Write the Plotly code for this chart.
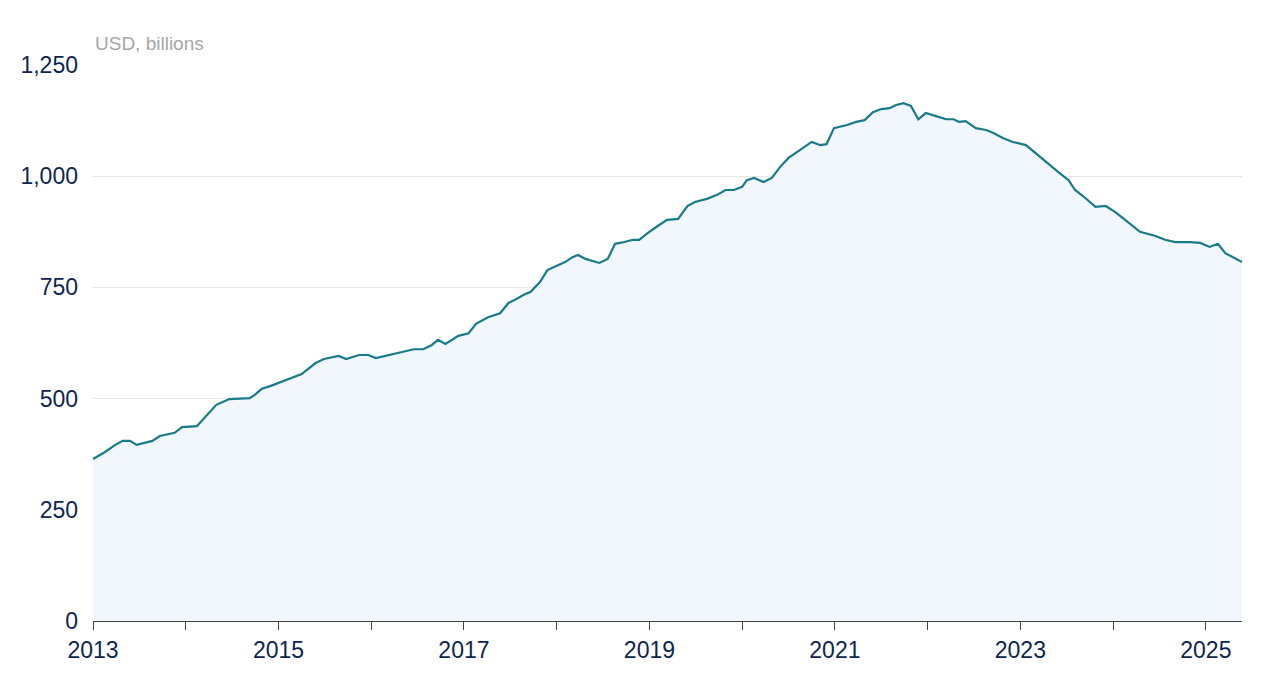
import plotly.graph_objects as go

years = [2013.00,2013.13,2013.24,2013.32,2013.40,2013.47,2013.64,2013.72,2013.88,2013.96,
 2014.12,2014.20,2014.33,2014.47,2014.69,2014.74,2014.82,2014.91,
 2015.11,2015.25,2015.40,2015.49,2015.65,2015.73,2015.87,2015.97,
 2016.05,2016.24,2016.46,2016.56,2016.65,2016.72,2016.80,2016.94,
 2017.05,2017.13,2017.26,2017.39,2017.48,2017.55,2017.64,2017.72,2017.82,2017.90,2017.99,
 2018.09,2018.17,2018.23,2018.31,2018.46,2018.55,2018.63,2018.73,2018.82,2018.89,2018.98,
 2019.09,2019.19,2019.31,2019.41,2019.49,2019.62,2019.73,2019.82,2019.91,
 2020.00,2020.05,2020.13,2020.23,2020.32,2020.41,2020.50,2020.59,2020.67,2020.75,2020.84,2020.91,2020.99,
 2021.13,2021.23,2021.32,2021.41,2021.50,2021.59,2021.66,2021.74,2021.82,2021.90,2021.98,
 2022.09,2022.20,2022.28,2022.34,2022.41,2022.52,2022.63,2022.71,2022.81,2022.92,
 2023.06,2023.11,2023.22,2023.30,2023.41,2023.52,2023.59,2023.70,2023.81,2023.92,
 2024.02,2024.13,2024.29,2024.45,2024.56,2024.67,2024.83,2024.94,
 2025.04,2025.13,2025.21,2025.39]
values = [364,380,396,405,405,396,405,416,423,436,
 438,456,486,499,501,508,522,528,
 544,555,580,589,596,589,598,598,
 591,600,611,611,620,632,623,641,
 647,668,683,692,715,722,733,740,762,789,798,
 807,818,823,814,805,814,848,852,857,857,872,
 888,902,904,933,942,949,958,969,969,
 976,991,996,987,996,1021,1041,1054,1066,1077,1070,1072,1108,
 1115,1122,1126,1144,1151,1153,1160,1164,1158,1128,1142,
 1135,1128,1128,1122,1124,1108,1104,1097,1086,1077,
 1070,1061,1043,1027,1009,991,969,951,931,933,
 920,902,875,866,857,852,852,850,
 841,848,827,807]
tick_years = [2013, 2015, 2017, 2019, 2021, 2023, 2025]
y_ticks = [0, 250, 500, 750, 1000, 1250]

fig = go.Figure(go.Scatter(x=years, y=values, mode="lines", fill="tozeroy",
    line=dict(color="#177b8a", width=2.2), fillcolor="#f1f7fc", hoverinfo="skip"))
font = dict(family="Liberation Sans Narrow, Liberation Sans, Arial", size=23, color="#0d2550")
fig.update_layout(
    width=1280, height=699, margin=dict(l=80, r=46, t=57, b=86),
    plot_bgcolor="white", paper_bgcolor="white", showlegend=False,
    xaxis=dict(range=[2013, 2025.39], tickvals=tick_years, ticktext=[str(t) for t in tick_years],
               tickfont=font, showgrid=False, showline=True, linecolor="#444", linewidth=1,
               ticks="outside", ticklen=8, tickcolor="#444",
               minor=dict(dtick=1, tick0=2013, ticks="outside", ticklen=8, tickcolor="#444"),
               zeroline=False),
    yaxis=dict(range=[0, 1250], tickvals=y_ticks, ticktext=["0", "250", "500", "750", "1,000", "1,250"],
               tickfont=font, showgrid=True, gridcolor="#e6e6e6", zeroline=False, ticks="", ticklabelstandoff=14),
    annotations=[dict(text="USD, billions", xref="paper", yref="paper", x=0, y=1.0, yshift=22,
                      xanchor="left", yanchor="middle", showarrow=False,
                      font=dict(family="Liberation Sans Narrow, Liberation Sans, Arial", size=19, color="#a6a6a6"))],
)
fig.write_html("out.html")
